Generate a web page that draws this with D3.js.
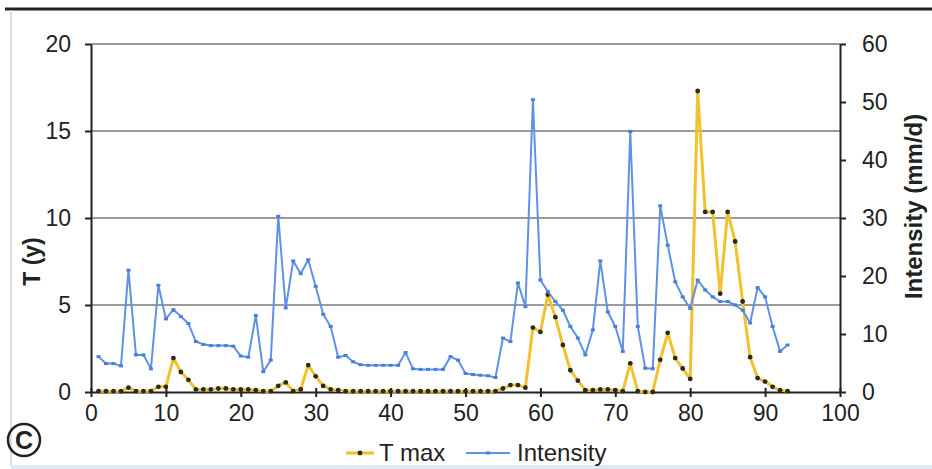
<!DOCTYPE html>
<html>
<head>
<meta charset="utf-8">
<script src="https://cdn.jsdelivr.net/npm/d3@7"></script>
<style>
  body { margin: 0; background: #fff; }
  svg { display: block; font-family: "Liberation Sans", Arial, sans-serif; }
  .axis path, .axis line { stroke: #222; stroke-width: 2; }
  .axis text { font-size: 23px; fill: #222; }
</style>
</head>
<body>
<svg id="chart" width="932" height="469"></svg>
<script>
// x positions (event index)
var xValues = d3.range(1, 94);

// T max (y), left axis
var tMax = [
  0.05, 0.05, 0.05, 0.05, 0.25, 0.05, 0.05, 0.05, 0.3, 0.3,
  1.95, 1.15, 0.7, 0.15, 0.15, 0.15, 0.2, 0.2, 0.15, 0.15,
  0.15, 0.1, 0.05, 0.05, 0.35, 0.55, 0.05, 0.15, 1.55, 0.9,
  0.35, 0.15, 0.1, 0.05, 0.05, 0.05, 0.05, 0.05, 0.05, 0.05,
  0.05, 0.05, 0.05, 0.05, 0.05, 0.05, 0.05, 0.05, 0.05, 0.05,
  0.05, 0.05, 0.05, 0.05, 0.2, 0.4, 0.4, 0.25, 3.7, 3.45,
  5.6, 4.3, 2.7, 1.25, 0.65, 0.1, 0.1, 0.15, 0.15, 0.1,
  0.05, 1.65, 0.05, 0.0, 0.0, 1.85, 3.4, 1.95, 1.35, 0.75,
  17.3, 10.35, 10.35, 5.65, 10.35, 8.65, 5.2, 2.0, 0.8, 0.6,
  0.3, 0.1, 0.05
];

// Intensity (mm/d), right axis
var intensity = [
  6.1, 4.9, 4.9, 4.5, 21.0, 6.4, 6.4, 4.0, 18.4, 12.6,
  14.2, 13.0, 11.8, 8.7, 8.2, 8.0, 8.0, 8.0, 7.9, 6.2,
  6.0, 13.2, 3.5, 5.5, 30.3, 14.5, 22.6, 20.4, 22.8, 18.2,
  13.4, 11.3, 6.0, 6.3, 5.2, 4.7, 4.6, 4.6, 4.6, 4.6,
  4.6, 6.8, 4.0, 3.9, 3.9, 3.9, 3.9, 6.1, 5.5, 3.2,
  3.0, 2.9, 2.8, 2.5, 9.3, 8.7, 18.8, 14.7, 50.4, 19.3,
  17.3, 15.6, 14.1, 11.3, 9.3, 6.4, 10.7, 22.6, 13.8, 11.3,
  7.0, 44.9, 11.3, 4.1, 4.0, 32.1, 25.3, 19.0, 16.4, 14.4,
  19.3, 17.6, 16.4, 15.6, 15.6, 15.0, 14.1, 11.9, 18.0, 16.4,
  11.3, 7.0, 8.1
];

var xTicks = [0, 10, 20, 30, 40, 50, 60, 70, 80, 90, 100];
var leftTicks = [0, 5, 10, 15, 20];
var rightTicks = [0, 10, 20, 30, 40, 50, 60];

var svg = d3.select("#chart"),
  WIDTH = 932, HEIGHT = 469,
  MARGINS = { top: 44, right: 92, bottom: 77, left: 91 };

var xScale = d3.scaleLinear().domain([0, 100]).range([MARGINS.left, WIDTH - MARGINS.right]),
  yLeft = d3.scaleLinear().domain([0, 20]).range([HEIGHT - MARGINS.bottom, MARGINS.top]),
  yRight = d3.scaleLinear().domain([0, 60]).range([HEIGHT - MARGINS.bottom, MARGINS.top]);

var TMAX_COLOR = "#f2c12e", INT_COLOR = "#5f92e6";

// frame: dark rule on top, faint line on the left, pale strip at bottom
svg.append("line").attr("x1", 5).attr("x2", WIDTH).attr("y1", 9).attr("y2", 9)
  .attr("stroke", "#222").attr("stroke-width", 3);
svg.append("line").attr("x1", 11).attr("x2", 11).attr("y1", 10).attr("y2", 466)
  .attr("stroke", "#d4d4d4").attr("stroke-width", 1.5);
svg.append("line").attr("x1", 11).attr("x2", WIDTH).attr("y1", 467).attr("y2", 467)
  .attr("stroke", "#dfe9f1").attr("stroke-width", 4);

// gridlines
svg.append("g").selectAll("line").data(leftTicks.slice(1)).enter().append("line")
  .attr("x1", MARGINS.left).attr("x2", WIDTH - MARGINS.right)
  .attr("y1", function(d) { return yLeft(d); })
  .attr("y2", function(d) { return yLeft(d); })
  .attr("stroke", "#9a9a9a").attr("stroke-width", 2);

// axes
var xAxis = svg.append("g").attr("class", "axis")
  .attr("transform", "translate(0," + (HEIGHT - MARGINS.bottom) + ")")
  .call(d3.axisBottom(xScale).tickValues(xTicks).tickSizeInner(5).tickSizeOuter(0).tickPadding(8));
xAxis.selectAll(".tick line").attr("y1", -4);

svg.append("g").attr("class", "axis")
  .attr("transform", "translate(" + MARGINS.left + ",0)")
  .call(d3.axisLeft(yLeft).tickValues(leftTicks).tickSizeInner(6).tickSizeOuter(0).tickPadding(14));

svg.append("g").attr("class", "axis")
  .attr("transform", "translate(" + (WIDTH - MARGINS.right) + ",0)")
  .call(d3.axisRight(yRight).tickValues(rightTicks).tickSizeInner(6).tickSizeOuter(0).tickPadding(16));

// axis titles
svg.append("text")
  .attr("transform", "translate(32," + yLeft(7.5) + ") rotate(-90)")
  .attr("text-anchor", "middle").attr("dy", "0.35em")
  .style("font-size", "23px").style("font-weight", "bold").style("fill", "#222")
  .text("T (y)");
svg.append("text")
  .attr("transform", "translate(914," + yRight(32) + ") rotate(-90)")
  .attr("text-anchor", "middle").attr("dy", "0.35em")
  .style("font-size", "24px").style("font-weight", "bold").style("fill", "#222")
  .text("Intensity (mm/d)");

var tData = xValues.map(function(x, i) { return { x: x, y: tMax[i] }; });
var iData = xValues.map(function(x, i) { return { x: x, y: intensity[i] }; });

// T max line
var tLine = d3.line().x(function(d) { return xScale(d.x); }).y(function(d) { return yLeft(d.y); });
svg.append("path").attr("d", tLine(tData))
  .attr("fill", "none").attr("stroke", TMAX_COLOR).attr("stroke-width", 3)
  .attr("stroke-linejoin", "round");
svg.append("g").selectAll("circle").data(tData).enter().append("circle")
  .attr("cx", function(d) { return xScale(d.x); })
  .attr("cy", function(d) { return yLeft(d.y); })
  .attr("r", 2.4).attr("fill", "#2a2a20");

// Intensity line
var iLine = d3.line().x(function(d) { return xScale(d.x); }).y(function(d) { return yRight(d.y); });
svg.append("path").attr("d", iLine(iData))
  .attr("fill", "none").attr("stroke", INT_COLOR).attr("stroke-width", 2)
  .attr("stroke-linejoin", "round");
svg.append("g").selectAll("rect").data(iData).enter().append("rect")
  .attr("x", function(d) { return xScale(d.x) - 2; })
  .attr("y", function(d) { return yRight(d.y) - 1.5; })
  .attr("width", 4).attr("height", 3).attr("fill", "#4a7fd8");

// legend
var legend = svg.append("g").attr("transform", "translate(0,453)");
legend.append("line").attr("x1", 346).attr("x2", 374).attr("y1", 0).attr("y2", 0)
  .attr("stroke", TMAX_COLOR).attr("stroke-width", 3);
legend.append("circle").attr("cx", 360).attr("cy", 0).attr("r", 2.4).attr("fill", "#2a2a20");
legend.append("text").attr("x", 379).attr("dy", "0.35em")
  .style("font-size", "24px").style("fill", "#222").text("T max");
legend.append("line").attr("x1", 466).attr("x2", 510).attr("y1", 0).attr("y2", 0)
  .attr("stroke", INT_COLOR).attr("stroke-width", 2);
legend.append("rect").attr("x", 486).attr("y", -1.5).attr("width", 4).attr("height", 3).attr("fill", "#4a7fd8");
legend.append("text").attr("x", 517).attr("dy", "0.35em")
  .style("font-size", "24px").style("fill", "#222").text("Intensity");

// panel label
svg.append("circle").attr("cx", 24).attr("cy", 440).attr("r", 16)
  .attr("fill", "none").attr("stroke", "#222").attr("stroke-width", 2.5);
svg.append("text").attr("x", 24).attr("y", 440).attr("dy", "0.36em")
  .attr("text-anchor", "middle")
  .style("font-size", "25px").style("font-weight", "bold").style("fill", "#222")
  .text("C");
</script>
</body>
</html>
